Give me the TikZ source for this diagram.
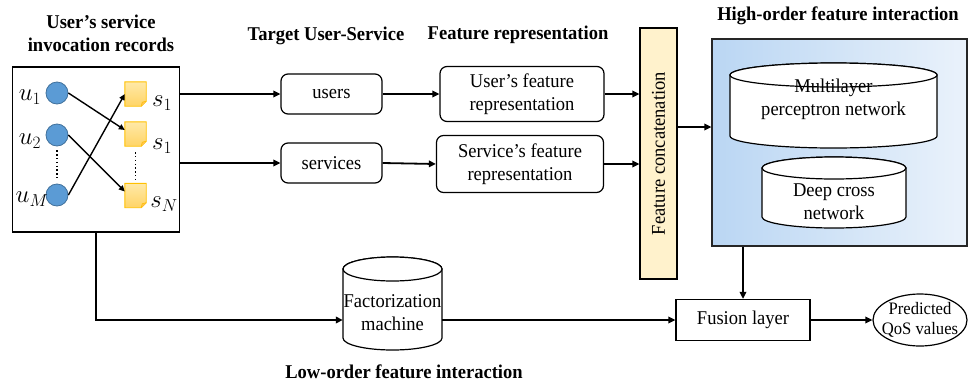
\documentclass[tikz,border=0pt]{standalone}
\usepackage{fontspec}
\setmainfont{Liberation Serif}[FakeStretch=0.95]
\usetikzlibrary{arrows.meta,calc,shapes.geometric}
\definecolor{ublue}{HTML}{5B9BD5}
\definecolor{ubluedk}{HTML}{41719C}
\definecolor{notetop}{HTML}{FFE9A8}
\definecolor{notebot}{HTML}{FFD466}
\definecolor{noteln}{HTML}{FFC000}
\definecolor{concatfill}{HTML}{FFF2CC}
\definecolor{hoL}{HTML}{BAD6F3}
\definecolor{hoR}{HTML}{EAF2FB}
\newcommand\mycyl[5]{%
  \pgfmathsetmacro\cxa{(#1+#3)/2}\pgfmathsetmacro\rxa{(#3-#1)/2}%
  \pgfmathsetmacro\ytop{#2+#5}\pgfmathsetmacro\ybot{#4-#5}%
  \draw[cylst] (#1,\ytop) -- (#1,\ybot) arc[start angle=180,end angle=0,x radius=\rxa,y radius=#5] -- (#3,\ytop) arc[start angle=0,end angle=-180,x radius=\rxa,y radius=#5] -- cycle;
  \draw[cylst] (\cxa,\ytop) ellipse[x radius=\rxa, y radius=#5];}
\begin{document}
\begin{tikzpicture}[x=1pt,y=-1pt,
  every node/.style={font=\fontsize{19.5}{23}\selectfont, inner sep=0pt},
  title/.style={font=\fontsize{19.5}{23}\selectfont\bfseries, align=center},
  arr/.style={line width=1.8pt, -{Triangle[length=7pt,width=6.5pt]}},
  sarr/.style={line width=1.4pt, -{Triangle[length=6pt,width=5.5pt]}},
  rbox/.style={draw, line width=1.2pt, rounded corners=7pt, align=center},
  pbox/.style={draw, line width=1.2pt, align=center},
  ucirc/.style={circle, minimum size=22pt, fill=ublue, draw=ubluedk, line width=0.8pt},
  notebox/.style={minimum width=21pt, minimum height=24pt},
  notest/.style={top color=notetop, bottom color=notebot, draw=noteln, line width=0.9pt},
  mlbl/.style={font=\fontsize{26}{28}\selectfont},
  dots/.style={line width=1.6pt, dash pattern=on 1.4pt off 2.4pt},
  cylst/.style={draw, fill=white, line width=1.2pt}]
\useasboundingbox (0,0) rectangle (968,386);

% titles
\node[title] (t1) at (101,33) {User’s service\\invocation records};
\node[title] (t2) at (326,36) {Target User-Service};
\node[title] (t3) at (518,35) {Feature representation};
\node[title] (t4) at (838,16) {High-order feature interaction};
\node[title] (t5) at (404,372) {Low-order feature interaction};

% records box
\node[pbox, minimum width=167pt, minimum height=165pt] (rec) at (96,149.5) {};
\node[ucirc] (u1) at (57,93) {};
\node[ucirc] (u2) at (57,135) {};
\node[ucirc] (uM) at (57,195) {};
\node[mlbl] (lu1) at (30,97) {$u_1$};
\node[mlbl] (lu2) at (30,141) {$u_2$};
\node[mlbl] (luM) at (32,199) {$u_M$};
\node[notebox] (sq1) at (135.5,94) {};
\node[notebox] (sq2) at (135.5,134) {};
\node[notebox] (sq3) at (135.5,195.5) {};
\foreach \n in {sq1,sq2,sq3}{
  \draw[notest] (\n.north west) -- (\n.north east) -- ([yshift=5pt]\n.south east) -- ([xshift=-5pt]\n.south east) -- (\n.south west) -- cycle;
  \draw[draw=noteln, fill=notebot!80!orange, line width=0.6pt] ([yshift=5pt]\n.south east) -- ([xshift=-4pt,yshift=4pt]\n.south east) -- ([xshift=-5pt]\n.south east);
}
\node[mlbl] (ls1) at (162,103) {$s_1$};
\node[mlbl] (ls2) at (162,146) {$s_1$};
\node[mlbl] (lsN) at (164,204) {$s_N$};
\draw[dots] ([yshift=-4pt]u2.south) -- ([yshift=3pt]uM.north);
\draw[dots] ([yshift=-6pt]sq2.south) -- ([yshift=1pt]sq3.north);
\draw[sarr] (u1.east) -- ([yshift=4pt]sq2.west);
\draw[sarr] (u2.east) -- ([yshift=4pt]sq3.west);
\draw[sarr] (uM.east) -- (sq1.west);

% target user-service
\node[rbox, minimum width=101pt, minimum height=40pt] (users) at (331.5,94) {users};
\node[rbox, minimum width=101pt, minimum height=40pt] (serv) at (331.5,163) {services};
\draw[arr] (rec.east |- users.west) -- (users.west);
\draw[arr] (rec.east |- serv.west) -- (serv.west);

% feature representation
\node[rbox, minimum width=164pt, minimum height=55pt] (ufr) at (522,94) {User’s feature\\representation};
\node[rbox, minimum width=167pt, minimum height=57pt] (sfr) at (520,164) {Service’s feature\\representation};
\draw[arr] (users.east) -- (ufr.west);
\draw[arr] (serv.east) -- (sfr.west);

% concatenation
\node[draw, line width=1.2pt, fill=concatfill, minimum width=37pt, minimum height=251pt] (concat) at (658.5,153.5) {};
\node[rotate=90] (concattxt) at (concat.center) {Feature concatenation};
\draw[arr] (ufr.east) -- (concat.west |- ufr.east);
\draw[arr] (sfr.east) -- (concat.west |- sfr.east);

% high-order box
\node[draw=black!85, line width=1.2pt, left color=hoL, right color=hoR, minimum width=255pt, minimum height=207pt] (ho) at (839.5,142.5) {};
\draw[arr] (concat.east |- 0,127) -- (ho.west |- 0,127);
\mycyl{730}{63}{937}{148}{12}
\node[minimum width=207pt, minimum height=85pt] (mlp) at (833.5,105.5) {};
\node[align=center] (mlptxt) at (833.5,99) {Multilayer\\perceptron network};
\mycyl{762}{157}{906}{228}{11}
\node[minimum width=144pt, minimum height=71pt] (dcn) at (834,192.5) {};
\node[align=center] (dcntxt) at (834,202) {Deep cross\\network};

% factorization machine
\mycyl{343}{257}{442}{350}{12}
\node[minimum width=99pt, minimum height=93pt] (fm) at (392.5,303.5) {};
\node[align=center] (fmtxt) at (392.5,313) {Factorization\\machine};

% fusion & output
\node[pbox, minimum width=134pt, minimum height=41pt] (fus) at (743,320) {Fusion layer};
\node[ellipse, draw, line width=1.2pt, minimum width=94pt, minimum height=52pt] (qos) at (920,320) {};
\node[align=center, font=\fontsize{17.5}{20}\selectfont] (qostxt) at (qos.center) {Predicted\\QoS values};
\draw[arr] (rec.south) |- (fm.west |- fus.west);
\draw[arr] (fm.east |- fus.west) -- (fus.west);
\draw[arr] (ho.south -| fus.north) -- (fus.north);
\draw[arr] (fus.east) -- (qos.west);
\end{tikzpicture}
\end{document}
